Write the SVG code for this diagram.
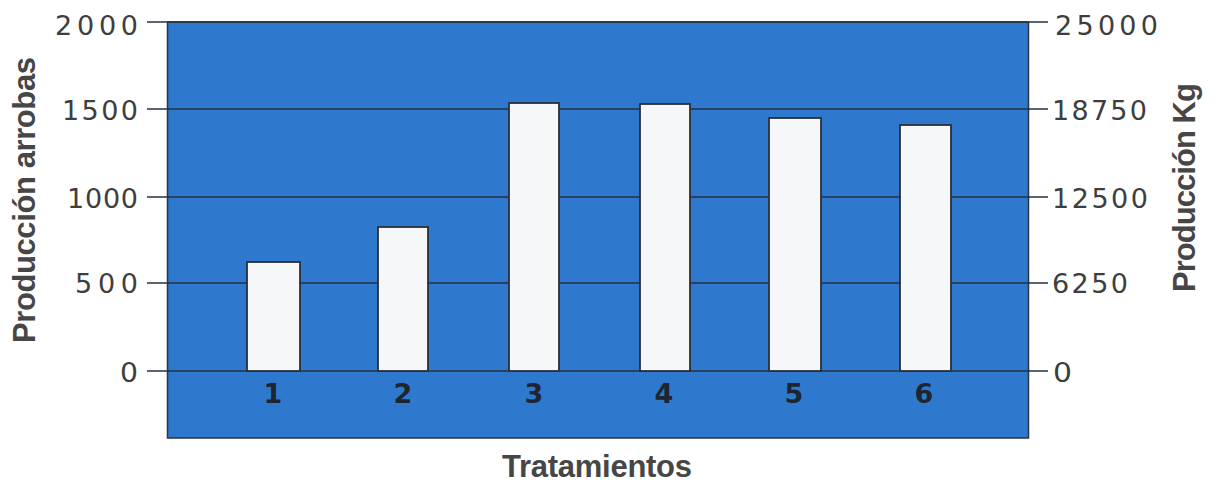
<svg xmlns="http://www.w3.org/2000/svg" width="1215" height="484" viewBox="0 0 1215 484">
<style>
.bg{fill:#2e79cd;stroke:#2a3340;stroke-width:1.5}
.grid{stroke:#263040;stroke-width:1.6;fill:none}
.bar{fill:#f5f7f8;stroke:#2a2f38;stroke-width:1.8}
.tick{font-family:"DejaVu Sans","Liberation Sans",sans-serif;font-size:27px;fill:#3e3e3e}
.cat{font-family:"DejaVu Sans","Liberation Sans",sans-serif;font-size:27px;font-weight:bold;fill:#1e2530;text-anchor:middle}
.title{font-family:"Liberation Sans",Arial,sans-serif;font-size:31px;font-weight:bold;fill:#464646}
</style>
<rect width="1215" height="484" fill="#ffffff"/>
<g id="plot-area">
<rect class="bg" x="167.5" y="22" width="861" height="416"/>
</g>
<g id="gridlines">
<line class="grid" x1="147" y1="22" x2="1048" y2="22"/>
<line class="grid" x1="147" y1="109" x2="1048" y2="109"/>
<line class="grid" x1="147" y1="197" x2="1048" y2="197"/>
<line class="grid" x1="147" y1="283" x2="1048" y2="283"/>
<line class="grid" x1="147" y1="371" x2="1048" y2="371"/>
</g>
<g id="bar-1"><rect class="bar" x="247" y="262" width="53" height="109"/><text class="cat" x="273" y="403">1</text></g>
<g id="bar-2"><rect class="bar" x="378" y="227" width="50" height="144"/><text class="cat" x="403" y="403">2</text></g>
<g id="bar-3"><rect class="bar" x="509" y="103" width="50" height="268"/><text class="cat" x="534" y="403">3</text></g>
<g id="bar-4"><rect class="bar" x="640" y="104" width="50" height="267"/><text class="cat" x="664" y="403">4</text></g>
<g id="bar-5"><rect class="bar" x="769" y="118" width="52" height="253"/><text class="cat" x="794" y="403">5</text></g>
<g id="bar-6"><rect class="bar" x="900" y="125" width="51" height="246"/><text class="cat" x="924" y="403">6</text></g>
<g id="left-axis">
<text class="tick" x="55" y="35" textLength="83" lengthAdjust="spacing">2000</text>
<text class="tick" x="62" y="120" textLength="76" lengthAdjust="spacing">1500</text>
<text class="tick" x="67" y="208" textLength="71" lengthAdjust="spacing">1000</text>
<text class="tick" x="75" y="293" textLength="63" lengthAdjust="spacing">500</text>
<text class="tick" x="120" y="382" textLength="18" lengthAdjust="spacingAndGlyphs">0</text>
<text class="title" transform="translate(35,343) rotate(-90)" textLength="286" lengthAdjust="spacing">Producción arrobas</text>
</g>
<g id="right-axis">
<text class="tick" x="1055" y="35" textLength="103" lengthAdjust="spacing">25000</text>
<text class="tick" x="1052" y="120" textLength="95" lengthAdjust="spacing">18750</text>
<text class="tick" x="1052" y="208" textLength="96" lengthAdjust="spacing">12500</text>
<text class="tick" x="1052" y="293" textLength="76" lengthAdjust="spacing">6250</text>
<text class="tick" x="1053" y="382" textLength="19" lengthAdjust="spacingAndGlyphs">0</text>
<text class="title" transform="translate(1195,292) rotate(-90)" textLength="209" lengthAdjust="spacing">Producción Kg</text>
</g>
<g id="x-axis-title">
<text class="title" x="502" y="477" textLength="190" lengthAdjust="spacing">Tratamientos</text>
</g>
</svg>
